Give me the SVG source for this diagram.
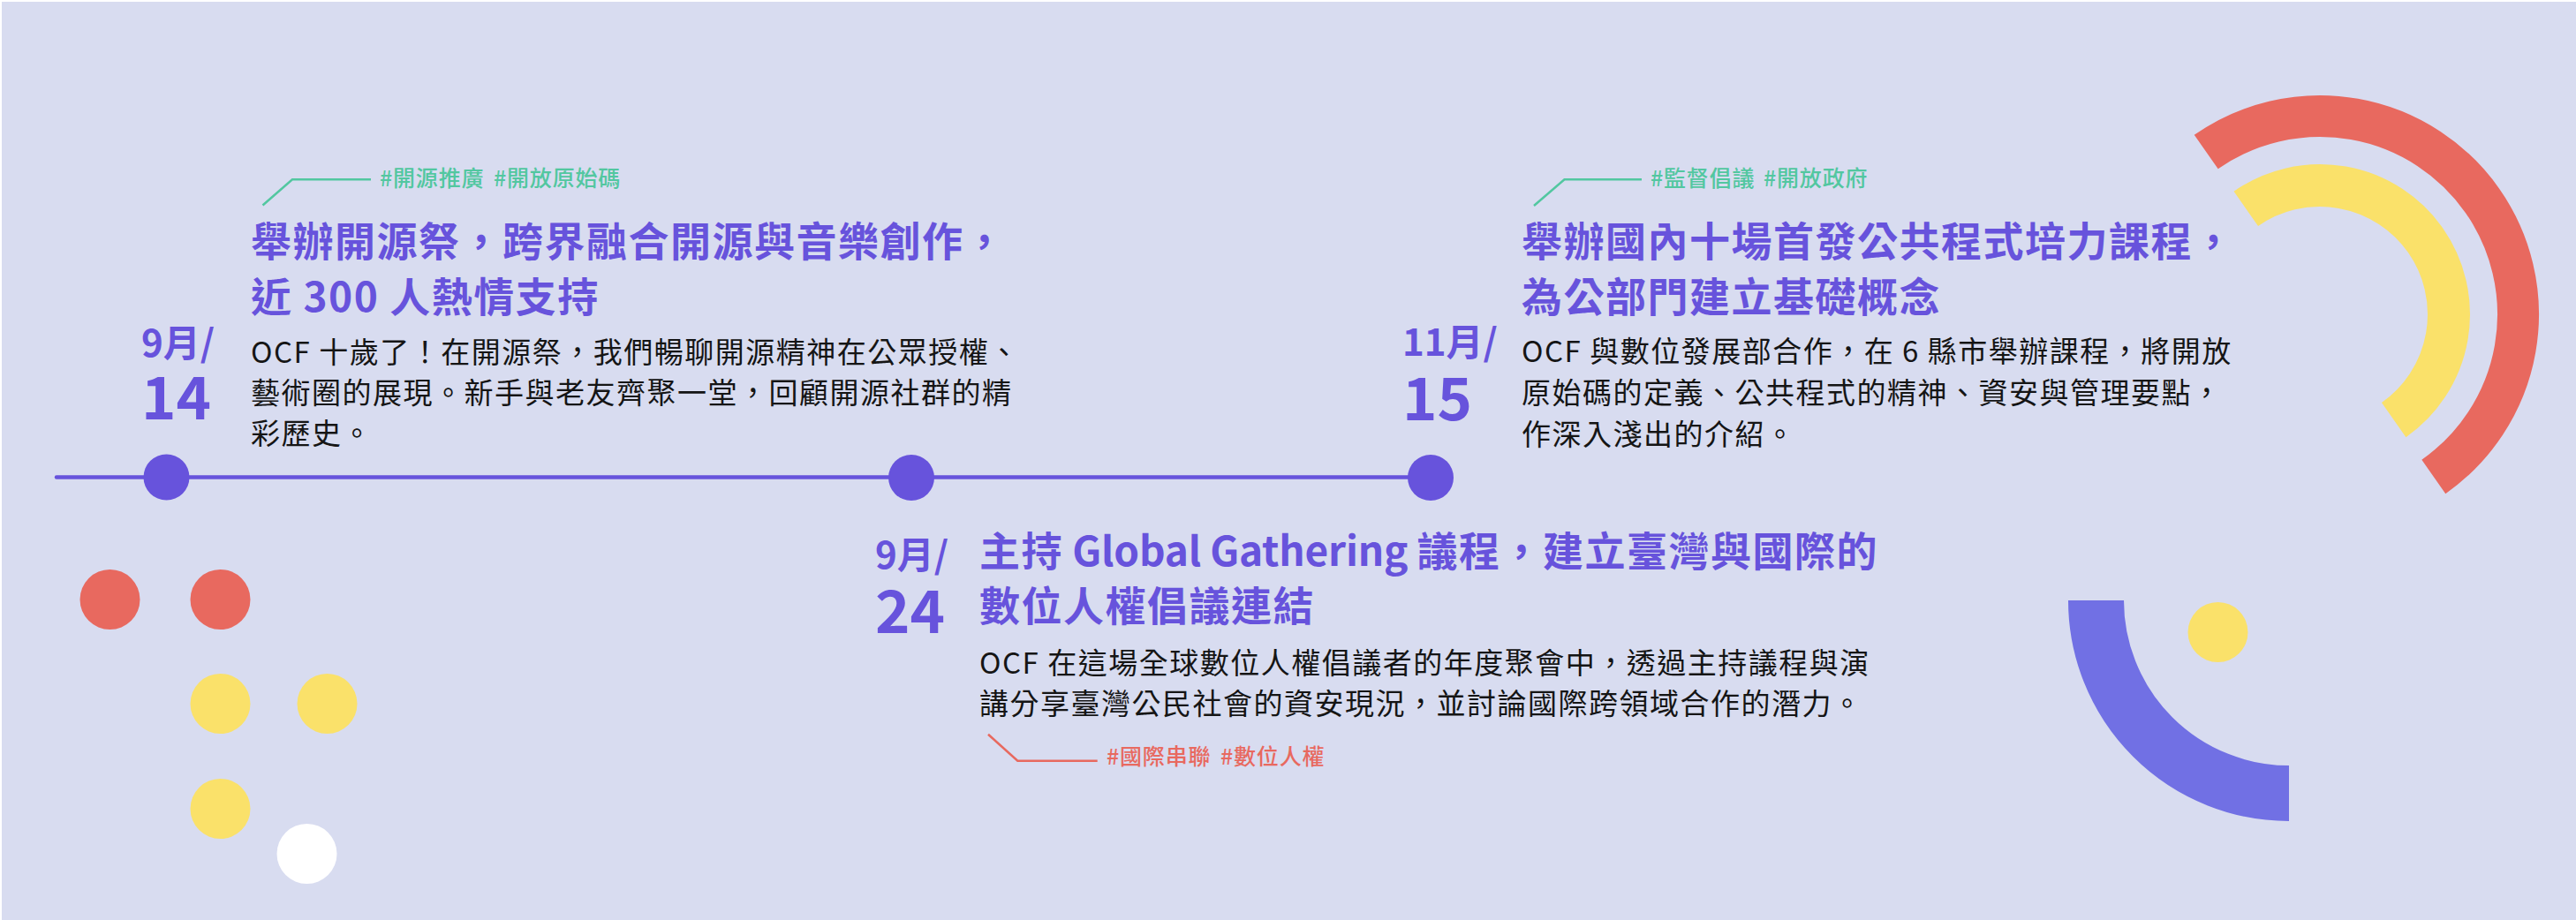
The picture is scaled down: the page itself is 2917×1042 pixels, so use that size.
<svg xmlns="http://www.w3.org/2000/svg" width="2917" height="1042" viewBox="0 0 2917 1042">
<defs>
<style>
.title{font-family:"Noto Sans CJK TC","Noto Sans",sans-serif;font-weight:700;font-size:46px;letter-spacing:1.5px;fill:#6753DC}
.body{font-family:"Noto Sans CJK TC","Noto Sans",sans-serif;font-weight:400;font-size:33px;letter-spacing:1.5px;fill:#151515}
.mon{font-family:"Noto Sans CJK TC","Noto Sans",sans-serif;font-weight:700;font-size:42px;fill:#6753DC}
.day{font-family:"Noto Sans CJK TC","Noto Sans",sans-serif;font-weight:700;font-size:67px;fill:#6753DC}
.tagg{font-family:"Noto Sans CJK TC","Noto Sans",sans-serif;font-weight:500;font-size:25px;letter-spacing:0.8px;fill:#52C7A0}
.tagr{font-family:"Noto Sans CJK TC","Noto Sans",sans-serif;font-weight:500;font-size:25px;letter-spacing:0.8px;fill:#E8695F}
.lg{fill:none;stroke:#52C7A0;stroke-width:2.5}
.lr{fill:none;stroke:#E8695F;stroke-width:2.5}
.dot{fill:#6753DC}
</style>
</defs>
<rect x="0" y="0" width="2917" height="1042" fill="#FFFFFF"/>
<rect x="2" y="2" width="2915" height="1040" fill="#D8DCF0"/>

<g id="decor">
<circle cx="124.5" cy="679" r="34" fill="#E8695F"/>
<circle cx="249.5" cy="679" r="34" fill="#E8695F"/>
<circle cx="249.5" cy="797" r="34" fill="#FAE16A"/>
<circle cx="370.5" cy="797" r="34" fill="#FAE16A"/>
<circle cx="249.5" cy="916" r="34" fill="#FAE16A"/>
<circle cx="347.5" cy="967" r="34" fill="#FFFFFF"/>
<path d="M2498.2 172.1 A224.5 224.5 0 0 1 2810.9 227.2 A224.5 224.5 0 0 1 2755.8 539.9" fill="none" stroke="#E8695F" stroke-width="47"/>
<path d="M2543.3 236.4 A146 146 0 0 1 2746.6 272.3 A146 146 0 0 1 2710.7 475.6" fill="none" stroke="#FAE16A" stroke-width="48"/>
<path d="M2373.5 680 A218.5 218.5 0 0 0 2592 898.5" fill="none" stroke="#7170E4" stroke-width="63"/>
<circle cx="2511.5" cy="716" r="34" fill="#FAE16A"/>
</g>

<g id="connectors">
<line x1="64" y1="540.5" x2="1620" y2="540.5" stroke="#6753DC" stroke-width="4.5" stroke-linecap="round"/>
<polyline class="lg" points="297.5,232.5 331,203.3 420,203.3"/>
<polyline class="lg" points="1737,233 1771.5,203.3 1859,203.3"/>
<polyline class="lr" points="1119,831.7 1152.3,861.7 1242.7,861.7"/>
</g>

<g id="event-0914">
<circle class="dot" cx="188.5" cy="540.5" r="26"/>
<text class="tagg" x="430" y="211">#開源推廣</text>
<text class="tagg" x="559" y="211">#開放原始碼</text>
<text class="title" x="284" y="290">舉辦開源祭，跨界融合開源與音樂創作，</text>
<text class="title" x="284" y="353">近 300 人熱情支持</text>
<text class="mon" x="160" y="404">9月/</text>
<text class="day" x="160" y="475">14</text>
<text class="body" x="284" y="411">OCF 十歲了！在開源祭，我們暢聊開源精神在公眾授權、</text>
<text class="body" x="284" y="457">藝術圈的展現。新手與老友齊聚一堂，回顧開源社群的精</text>
<text class="body" x="284" y="503">彩歷史。</text>
</g>

<g id="event-0924">
<circle class="dot" cx="1032" cy="541" r="26"/>
<text class="mon" x="991" y="644">9月/</text>
<text class="day" x="991" y="717">24</text>
<text class="title" x="1109" y="641">主持<tspan letter-spacing="-0.2"> Global Gathering </tspan>議程，建立臺灣與國際的</text>
<text class="title" x="1109" y="703">數位人權倡議連結</text>
<text class="body" x="1109" y="763">OCF 在這場全球數位人權倡議者的年度聚會中，透過主持議程與演</text>
<text class="body" x="1109" y="809">講分享臺灣公民社會的資安現況，並討論國際跨領域合作的潛力。</text>
<text class="tagr" x="1253" y="866">#國際串聯</text>
<text class="tagr" x="1382" y="866">#數位人權</text>
</g>

<g id="event-1115">
<circle class="dot" cx="1620" cy="541" r="26"/>
<text class="tagg" x="1869" y="211">#監督倡議</text>
<text class="tagg" x="1997" y="211">#開放政府</text>
<text class="title" x="1723" y="290">舉辦國內十場首發公共程式培力課程，</text>
<text class="title" x="1723" y="353">為公部門建立基礎概念</text>
<text class="mon" x="1588" y="403">11月/</text>
<text class="day" x="1588" y="476">15</text>
<text class="body" x="1723" y="410">OCF 與數位發展部合作，在 6 縣市舉辦課程，將開放</text>
<text class="body" x="1723" y="457">原始碼的定義、公共程式的精神、資安與管理要點，</text>
<text class="body" x="1723" y="504">作深入淺出的介紹。</text>
</g>
</svg>
